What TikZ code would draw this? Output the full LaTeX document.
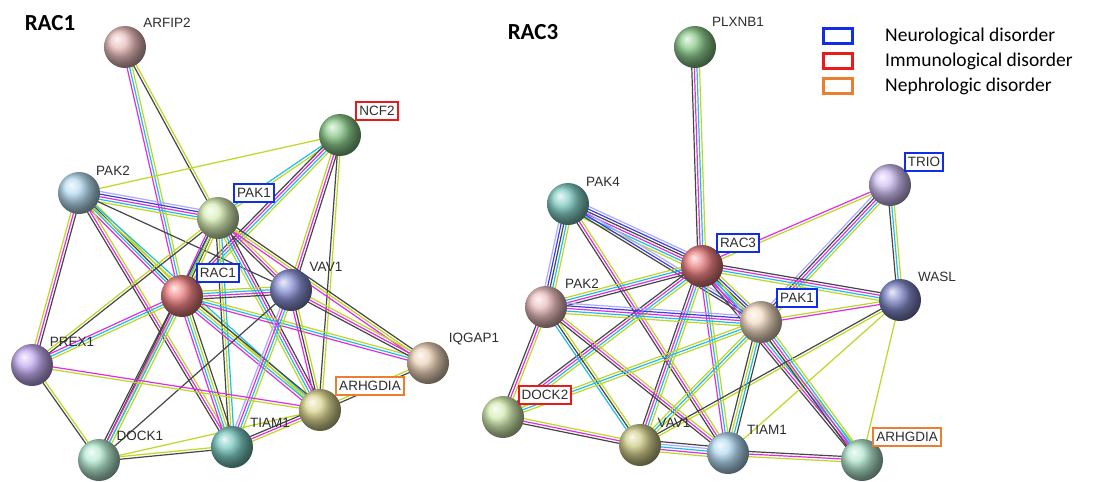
\documentclass[tikz,border=0pt]{standalone}
\usepackage{fontspec}
\setmainfont{Liberation Sans}
\newfontfamily\calib{Carlito}
\usepackage{tikz}
\usetikzlibrary{calc, backgrounds}

\definecolor{cy}{RGB}{30,190,235}
\definecolor{mg}{RGB}{225,45,225}
\definecolor{kk}{RGB}{70,70,70}
\definecolor{yg}{RGB}{190,215,35}
\definecolor{bl}{RGB}{60,60,230}
\definecolor{hm}{RGB}{170,170,255}
\definecolor{nblue}{RGB}{15,45,235}
\definecolor{nred}{RGB}{235,25,25}
\definecolor{norange}{RGB}{237,125,49}

% sphere colours
\definecolor{cArfip}{RGB}{228,170,170}
\definecolor{cNcf}{RGB}{105,185,105}
\definecolor{cPakB}{RGB}{160,208,235}
\definecolor{cPakA}{RGB}{205,232,160}
\definecolor{cRacA}{RGB}{232,95,95}
\definecolor{cVav}{RGB}{105,115,200}
\definecolor{cPrex}{RGB}{180,150,238}
\definecolor{cIqg}{RGB}{232,198,165}
\definecolor{cArhA}{RGB}{210,205,115}
\definecolor{cTiamA}{RGB}{85,185,175}
\definecolor{cDockA}{RGB}{160,228,195}
\definecolor{cPlx}{RGB}{105,185,105}
\definecolor{cPakD}{RGB}{95,190,180}
\definecolor{cTrio}{RGB}{195,172,240}
\definecolor{cRacC}{RGB}{225,90,90}
\definecolor{cWasl}{RGB}{90,100,180}
\definecolor{cPakC}{RGB}{228,170,170}
\definecolor{cPakE}{RGB}{240,210,178}
\definecolor{cDockB}{RGB}{200,232,155}
\definecolor{cVavB}{RGB}{195,190,105}
\definecolor{cTiamB}{RGB}{158,208,238}
\definecolor{cArhB}{RGB}{155,222,190}

% one STRING edge: parallel coloured strands between two nodes
\newcommand{\link}[3]{%
  \def\nlines{0}%
  \foreach \c in {#3}{\xdef\nlines{\the\numexpr\nlines+1\relax}}%
  \foreach \c [count=\i] in {#3}{%
    \pgfmathsetmacro{\off}{(\i-(\nlines+1)/2)*2.6}%
    \draw[\c, strand] ($(#1)!\off pt!90:(#2)$) -- ($(#2)!\off pt!-90:(#1)$);
  }}

\begin{document}
\begin{tikzpicture}[x=1pt, y=-1pt,
    prot/.style={circle, minimum size=42pt, inner sep=0pt, ball color=#1!78!white},
    strand/.style={line width=1.2pt},
    lbl/.style={font=\fontsize{13.5}{15}\selectfont, text=black!82, inner xsep=3pt, inner ysep=4pt},
    dis/.style={lbl, draw=#1, line width=2pt, fill=white},
    title/.style={font=\calib\bfseries\fontsize{23}{26}\selectfont},
    legbox/.style={draw=#1, line width=2.2pt, minimum width=29pt, minimum height=15pt, inner sep=0pt},
    legtxt/.style={font=\calib\fontsize{19.5}{22}\selectfont, anchor=west, inner sep=0pt}
]
    \useasboundingbox (0,0) rectangle (1096,482);

    % RAC1 network
    \node[title] (t1) at (50,23) {RAC1};
    \node[prot=cArfip] (r1arf) at (125,47) {};
    \node[prot=cNcf] (r1ncf) at (340,135) {};
    \node[prot=cPakB] (r1pak2) at (79,193) {};
    \node[prot=cPakA] (r1pak1) at (218,218) {};
    \node[prot=cRacA] (r1rac) at (182,296) {};
    \node[prot=cVav] (r1vav) at (291,290) {};
    \node[prot=cPrex] (r1prex) at (32,365) {};
    \node[prot=cIqg] (r1iqg) at (428,363) {};
    \node[prot=cArhA] (r1arh) at (320,410) {};
    \node[prot=cTiamA] (r1tiam) at (232,447) {};
    \node[prot=cDockA] (r1dock) at (99,460) {};

    \node[lbl] (r1arf-l) at (167,23) {ARFIP2};
    \node[dis=nred] (r1ncf-l) at (377,111) {NCF2};
    \node[lbl] (r1pak2-l) at (113,171) {PAK2};
    \node[dis=nblue] (r1pak1-l) at (254,193) {PAK1};
    \node[dis=nblue] (r1rac-l) at (218,273) {RAC1};
    \node[lbl] (r1vav-l) at (326,267) {VAV1};
    \node[lbl] (r1prex-l) at (72,342) {PREX1};
    \node[lbl] (r1iqg-l) at (474,339) {IQGAP1};
    \node[dis=norange] (r1arh-l) at (370,386) {ARHGDIA};
    \node[lbl] (r1tiam-l) at (270,423) {TIAM1};
    \node[lbl] (r1dock-l) at (140,436) {DOCK1};

    % RAC3 network
    \node[title] (t3) at (533,32) {RAC3};
    \node[prot=cPlx] (r3plx) at (695,47) {};
    \node[prot=cPakD] (r3pak4) at (568,204) {};
    \node[prot=cTrio] (r3trio) at (890,185) {};
    \node[prot=cRacC] (r3rac) at (702,266) {};
    \node[prot=cWasl] (r3wasl) at (900,300) {};
    \node[prot=cPakC] (r3pak2) at (546,307) {};
    \node[prot=cPakE] (r3pak1) at (761,322) {};
    \node[prot=cDockB] (r3dock) at (503,417) {};
    \node[prot=cVavB] (r3vav) at (640,445) {};
    \node[prot=cTiamB] (r3tiam) at (728,453) {};
    \node[prot=cArhB] (r3arh) at (862,460) {};

    \node[lbl] (r3plx-l) at (738,22) {PLXNB1};
    \node[lbl] (r3pak4-l) at (603,182) {PAK4};
    \node[dis=nblue] (r3trio-l) at (924,162) {TRIO};
    \node[dis=nblue] (r3rac-l) at (738,243) {RAC3};
    \node[lbl] (r3wasl-l) at (937,277) {WASL};
    \node[lbl] (r3pak2-l) at (582,284) {PAK2};
    \node[dis=nblue] (r3pak1-l) at (797,298) {PAK1};
    \node[dis=nred] (r3dock-l) at (545,395) {DOCK2};
    \node[lbl] (r3vav-l) at (674,423) {VAV1};
    \node[lbl] (r3tiam-l) at (767,430) {TIAM1};
    \node[dis=norange] (r3arh-l) at (907,437) {ARHGDIA};

    % legend
    \node[legbox=nblue] (lg1) at (838,36) {};
    \node[legbox=nred] (lg2) at (838,61) {};
    \node[legbox=norange] (lg3) at (838,86) {};
    \node[legtxt] (lg1-t) at (885,36) {Neurological disorder};
    \node[legtxt] (lg2-t) at (885,61) {Immunological disorder};
    \node[legtxt] (lg3-t) at (885,86) {Nephrologic disorder};

    \begin{scope}[on background layer]
    \fill[white] (0,0) rectangle (1096,482);
    \link{r1arf}{r1rac}{mg,cy,yg}
    \link{r1arf}{r1pak1}{kk,yg}
    \link{r1ncf}{r1pak2}{yg}
    \link{r1ncf}{r1pak1}{cy,yg}
    \link{r1ncf}{r1rac}{kk,mg,cy,yg}
    \link{r1ncf}{r1vav}{yg,mg,kk}
    \link{r1ncf}{r1arh}{kk,yg}
    \link{r1pak2}{r1pak1}{yg,cy,mg,bl,hm}
    \link{r1pak2}{r1rac}{mg,cy,kk,yg}
    \link{r1pak2}{r1vav}{kk}
    \link{r1pak2}{r1prex}{yg,mg,kk}
    \link{r1pak2}{r1tiam}{kk,mg,yg}
    \link{r1pak2}{r1arh}{yg,cy}
    \link{r1pak1}{r1rac}{mg,cy,kk,yg}
    \link{r1pak1}{r1vav}{kk,mg,yg}
    \link{r1pak1}{r1iqg}{mg,yg,kk}
    \link{r1pak1}{r1arh}{yg,cy,mg,kk}
    \link{r1pak1}{r1tiam}{kk,yg,cy}
    \link{r1pak1}{r1prex}{yg,kk}
    \link{r1pak1}{r1dock}{kk,yg}
    \link{r1rac}{r1vav}{kk,mg,cy,yg}
    \link{r1rac}{r1iqg}{mg,cy,yg}
    \link{r1rac}{r1arh}{mg,cy,yg,kk}
    \link{r1rac}{r1tiam}{mg,cy,yg,kk}
    \link{r1rac}{r1dock}{kk,mg,cy,yg}
    \link{r1rac}{r1prex}{mg,cy,yg}
    \link{r1vav}{r1dock}{kk}
    \link{r1vav}{r1tiam}{hm,mg,cy,yg}
    \link{r1vav}{r1arh}{mg,kk,yg}
    \link{r1vav}{r1iqg}{kk,mg,yg}
    \link{r1prex}{r1arh}{yg,mg}
    \link{r1prex}{r1dock}{kk,yg}
    \link{r1dock}{r1tiam}{kk,yg}
    \link{r1dock}{r1arh}{yg}
    \link{r1tiam}{r1arh}{yg,mg,kk}
    \link{r1iqg}{r1arh}{yg,kk}

    \link{r3plx}{r3rac}{kk,mg,cy,yg}
    \link{r3pak4}{r3rac}{yg,cy,mg,kk,bl,hm}
    \link{r3pak4}{r3pak2}{hm,bl,kk,cy,yg}
    \link{r3pak4}{r3pak1}{kk,bl,hm}
    \link{r3pak4}{r3tiam}{kk,mg,yg}
    \link{r3trio}{r3rac}{mg,yg}
    \link{r3trio}{r3pak1}{hm,kk,mg,cy,yg}
    \link{r3trio}{r3wasl}{kk,cy,yg}
    \link{r3rac}{r3wasl}{yg,cy,mg,kk}
    \link{r3rac}{r3pak1}{mg,cy,kk,bl,yg}
    \link{r3rac}{r3pak2}{yg,cy,mg,kk}
    \link{r3rac}{r3dock}{kk,mg,cy,yg}
    \link{r3rac}{r3vav}{kk,mg,cy,yg}
    \link{r3rac}{r3tiam}{mg,cy,yg}
    \link{r3rac}{r3arh}{kk,mg,cy,yg}
    \link{r3wasl}{r3pak1}{yg,mg}
    \link{r3wasl}{r3vav}{kk,yg}
    \link{r3wasl}{r3tiam}{yg}
    \link{r3wasl}{r3arh}{yg}
    \link{r3pak2}{r3pak1}{yg,cy,mg,bl,hm}
    \link{r3pak2}{r3dock}{kk,mg,yg}
    \link{r3pak2}{r3vav}{cy,kk,yg}
    \link{r3pak2}{r3tiam}{kk,mg,yg}
    \link{r3pak1}{r3dock}{yg,cy,yg}
    \link{r3pak1}{r3vav}{yg,cy,yg}
    \link{r3pak1}{r3tiam}{kk,yg,cy,kk}
    \link{r3pak1}{r3arh}{kk,mg,cy,yg}
    \link{r3dock}{r3vav}{kk,mg,yg}
    \link{r3vav}{r3tiam}{yg,mg,cy,hm,kk}
    \link{r3tiam}{r3arh}{yg,mg,kk}
    \end{scope}
\end{tikzpicture}
\end{document}
